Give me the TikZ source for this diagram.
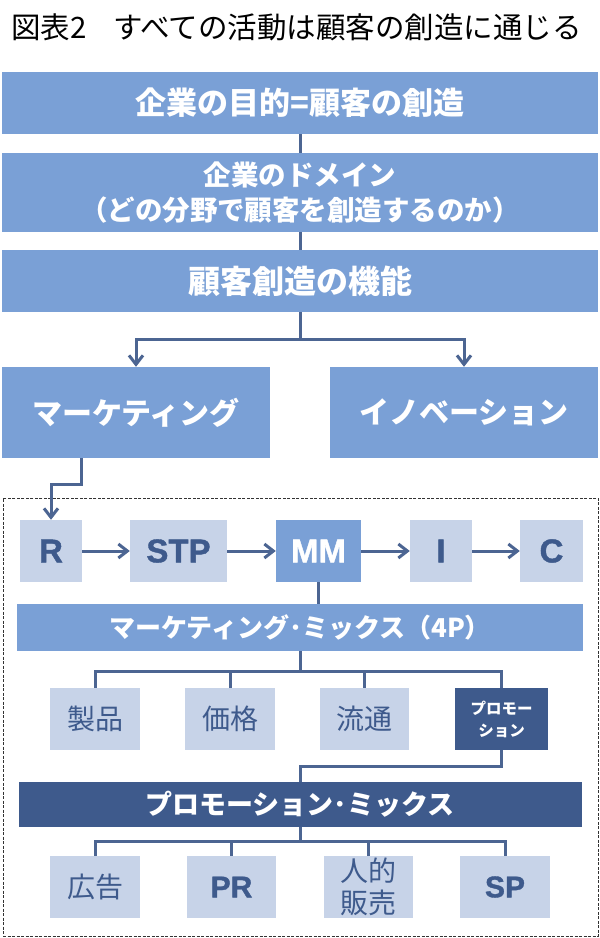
\documentclass[tikz,border=0pt]{standalone}
\usepackage{fontspec}
\setmainfont{Noto Sans CJK JP}
\newfontfamily\heavy{Liberation Sans}[BoldFont={Liberation Sans Bold},
  BoldFeatures={FakeBold=1.2}]
\usetikzlibrary{arrows.meta, calc, positioning}
\definecolor{midcol}{RGB}{122, 160, 214}
\definecolor{palecol}{RGB}{199, 211, 232}
\definecolor{deepcol}{RGB}{62, 90, 140}
\definecolor{linecol}{RGB}{76, 101, 146}
\tikzset{
  blk/.style   = {inner sep=0pt, align=center, minimum height=62pt},
  mid/.style   = {blk, fill=midcol, text=white,
                  font=\bfseries\fontsize{31}{35}\selectfont},
  pale/.style  = {blk, fill=palecol, text=deepcol,
                  font=\fontsize{28}{32}\selectfont},
  tag/.style   = {blk, fill=palecol, text=deepcol,
                  font=\heavy\bfseries\fontsize{33}{33}\selectfont},
  deep/.style  = {blk, fill=deepcol, text=white,
                  font=\bfseries\fontsize{26}{30}\selectfont},
  link/.style  = {draw=linecol, line width=3pt},
  flow/.style  = {link, -{Straight Barb[length=9pt, width=14pt]}},
  grp/.style   = {draw=black!80, dash pattern=on 3pt off 1.5pt,
                  line width=0.9pt},
}
\begin{document}
\begin{tikzpicture}[x=1pt, y=-1pt]
  \useasboundingbox (0,0) rectangle (600,938);

  %% ---------------- title ----------------
  \node[anchor=west, inner sep=0pt, font=\fontsize{29.5}{29.5}\selectfont]
       (title) at (11,27) {図表2\hspace{0.9em}すべての活動は顧客の創造に通じる};

  %% ---------------- upper chain ----------------
  \node[mid, minimum width=596pt] (goal) at (300,103)
       {企業の目的=顧客の創造};
  \node[mid, minimum width=596pt, minimum height=79pt,
        font=\bfseries\fontsize{27.5}{35}\selectfont] (domain) at (300,192.5)
       {企業のドメイン\\（どの分野で顧客を創造するのか）};
  \node[mid, minimum width=596pt, font=\bfseries\fontsize{32}{34}\selectfont]
       (func) at (300,281) {顧客創造の機能};

  \node[mid, minimum width=268pt, minimum height=91pt,
        font=\bfseries\fontsize{30}{34}\selectfont] (mkt) at (136,412.5)
       {マーケティング};
  \node[mid, minimum width=268pt, minimum height=91pt,
        font=\bfseries\fontsize{30}{34}\selectfont] (inno) at (464,412.5)
       {イノベーション};

  \draw[link] (goal.south) -- (domain.north);
  \draw[link] (domain.south) -- (func.north);
  \draw[link] (func.south) -- ++(0,27) coordinate (fork);
  \draw[flow] (fork) -| (mkt.north);
  \draw[flow] (fork) -| (inno.north);

  %% ---------------- marketing process ----------------
  \node[grp, minimum width=595pt, minimum height=438pt] (frame)
       at (300.5,717) {};

  \node[tag, minimum width=62pt] (R) at (51,551) {R};
  \node[tag, minimum width=97pt] (STP) at (178.5,551) {STP};
  \node[tag, minimum width=85pt, fill=midcol, text=white] (MM)
       at (318.5,551) {MM};
  \node[tag, minimum width=62pt] (I) at (441,551) {I};
  \node[tag, minimum width=63pt] (C) at (551.5,551) {C};

  \coordinate (mktout) at ($(mkt.south west)+(80,0)$);
  \draw[flow] (mktout) -- ++(0,26) -| (R.north);
  \draw[flow] (R) -- (STP);
  \draw[flow] (STP) -- (MM);
  \draw[flow] (MM) -- (I);
  \draw[flow] (I) -- (C);

  %% ---------------- 4P ----------------
  \node[mid, minimum width=566pt, minimum height=47pt,
        font=\bfseries\fontsize{26}{30}\selectfont] (mix) at (300,627.5)
       {マーケティング･ミックス（4P）};
  \draw[link] (MM.south) -- (MM.south |- mix.north);

  \node[pale, minimum width=90pt] (prod) at (95,719) {製品};
  \node[pale, minimum width=90pt] (price) at (230,719) {価格};
  \node[pale, minimum width=89pt] (place) at (364.5,719) {流通};
  \node[deep, minimum width=93pt, font=\bfseries\fontsize{15.5}{22}\selectfont]
       (promo) at (501.5,719) {プロモー\\ション};

  \draw[link] (mix.south) -- ++(0,20) coordinate (mixfork);
  \draw[link] (mixfork) -| (prod.north);
  \draw[link] (mixfork) -| (price.north);
  \draw[link] (mixfork) -| (place.north);
  \draw[link] (mixfork) -| (promo.north);

  %% ---------------- promotion mix ----------------
  \node[deep, minimum width=563pt, minimum height=45pt,
        font=\bfseries\fontsize{27}{30}\selectfont] (pmix)
       at (300,804.5) {プロモーション･ミックス};
  \draw[link] (promo.south) -- ++(0,16) -| (pmix.north);

  \node[pale, minimum width=90pt] (ad) at (95,887) {広告};
  \node[tag, minimum width=89pt, font=\heavy\bfseries\fontsize{30}{30}\selectfont]
       (pr) at (231.5,887) {PR};
  \node[pale, minimum width=89pt] (sales) at (368.5,887) {人的\\販売};
  \node[tag, minimum width=90pt, font=\heavy\bfseries\fontsize{30}{30}\selectfont]
       (sp) at (505,887) {SP};

  \draw[link] (pmix.south) -- ++(0,14) coordinate (pfork);
  \draw[link] (pfork) -| (ad.north);
  \draw[link] (pfork) -| (pr.north);
  \draw[link] (pfork) -| (sales.north);
  \draw[link] (pfork) -| (sp.north);

\end{tikzpicture}
\end{document}
